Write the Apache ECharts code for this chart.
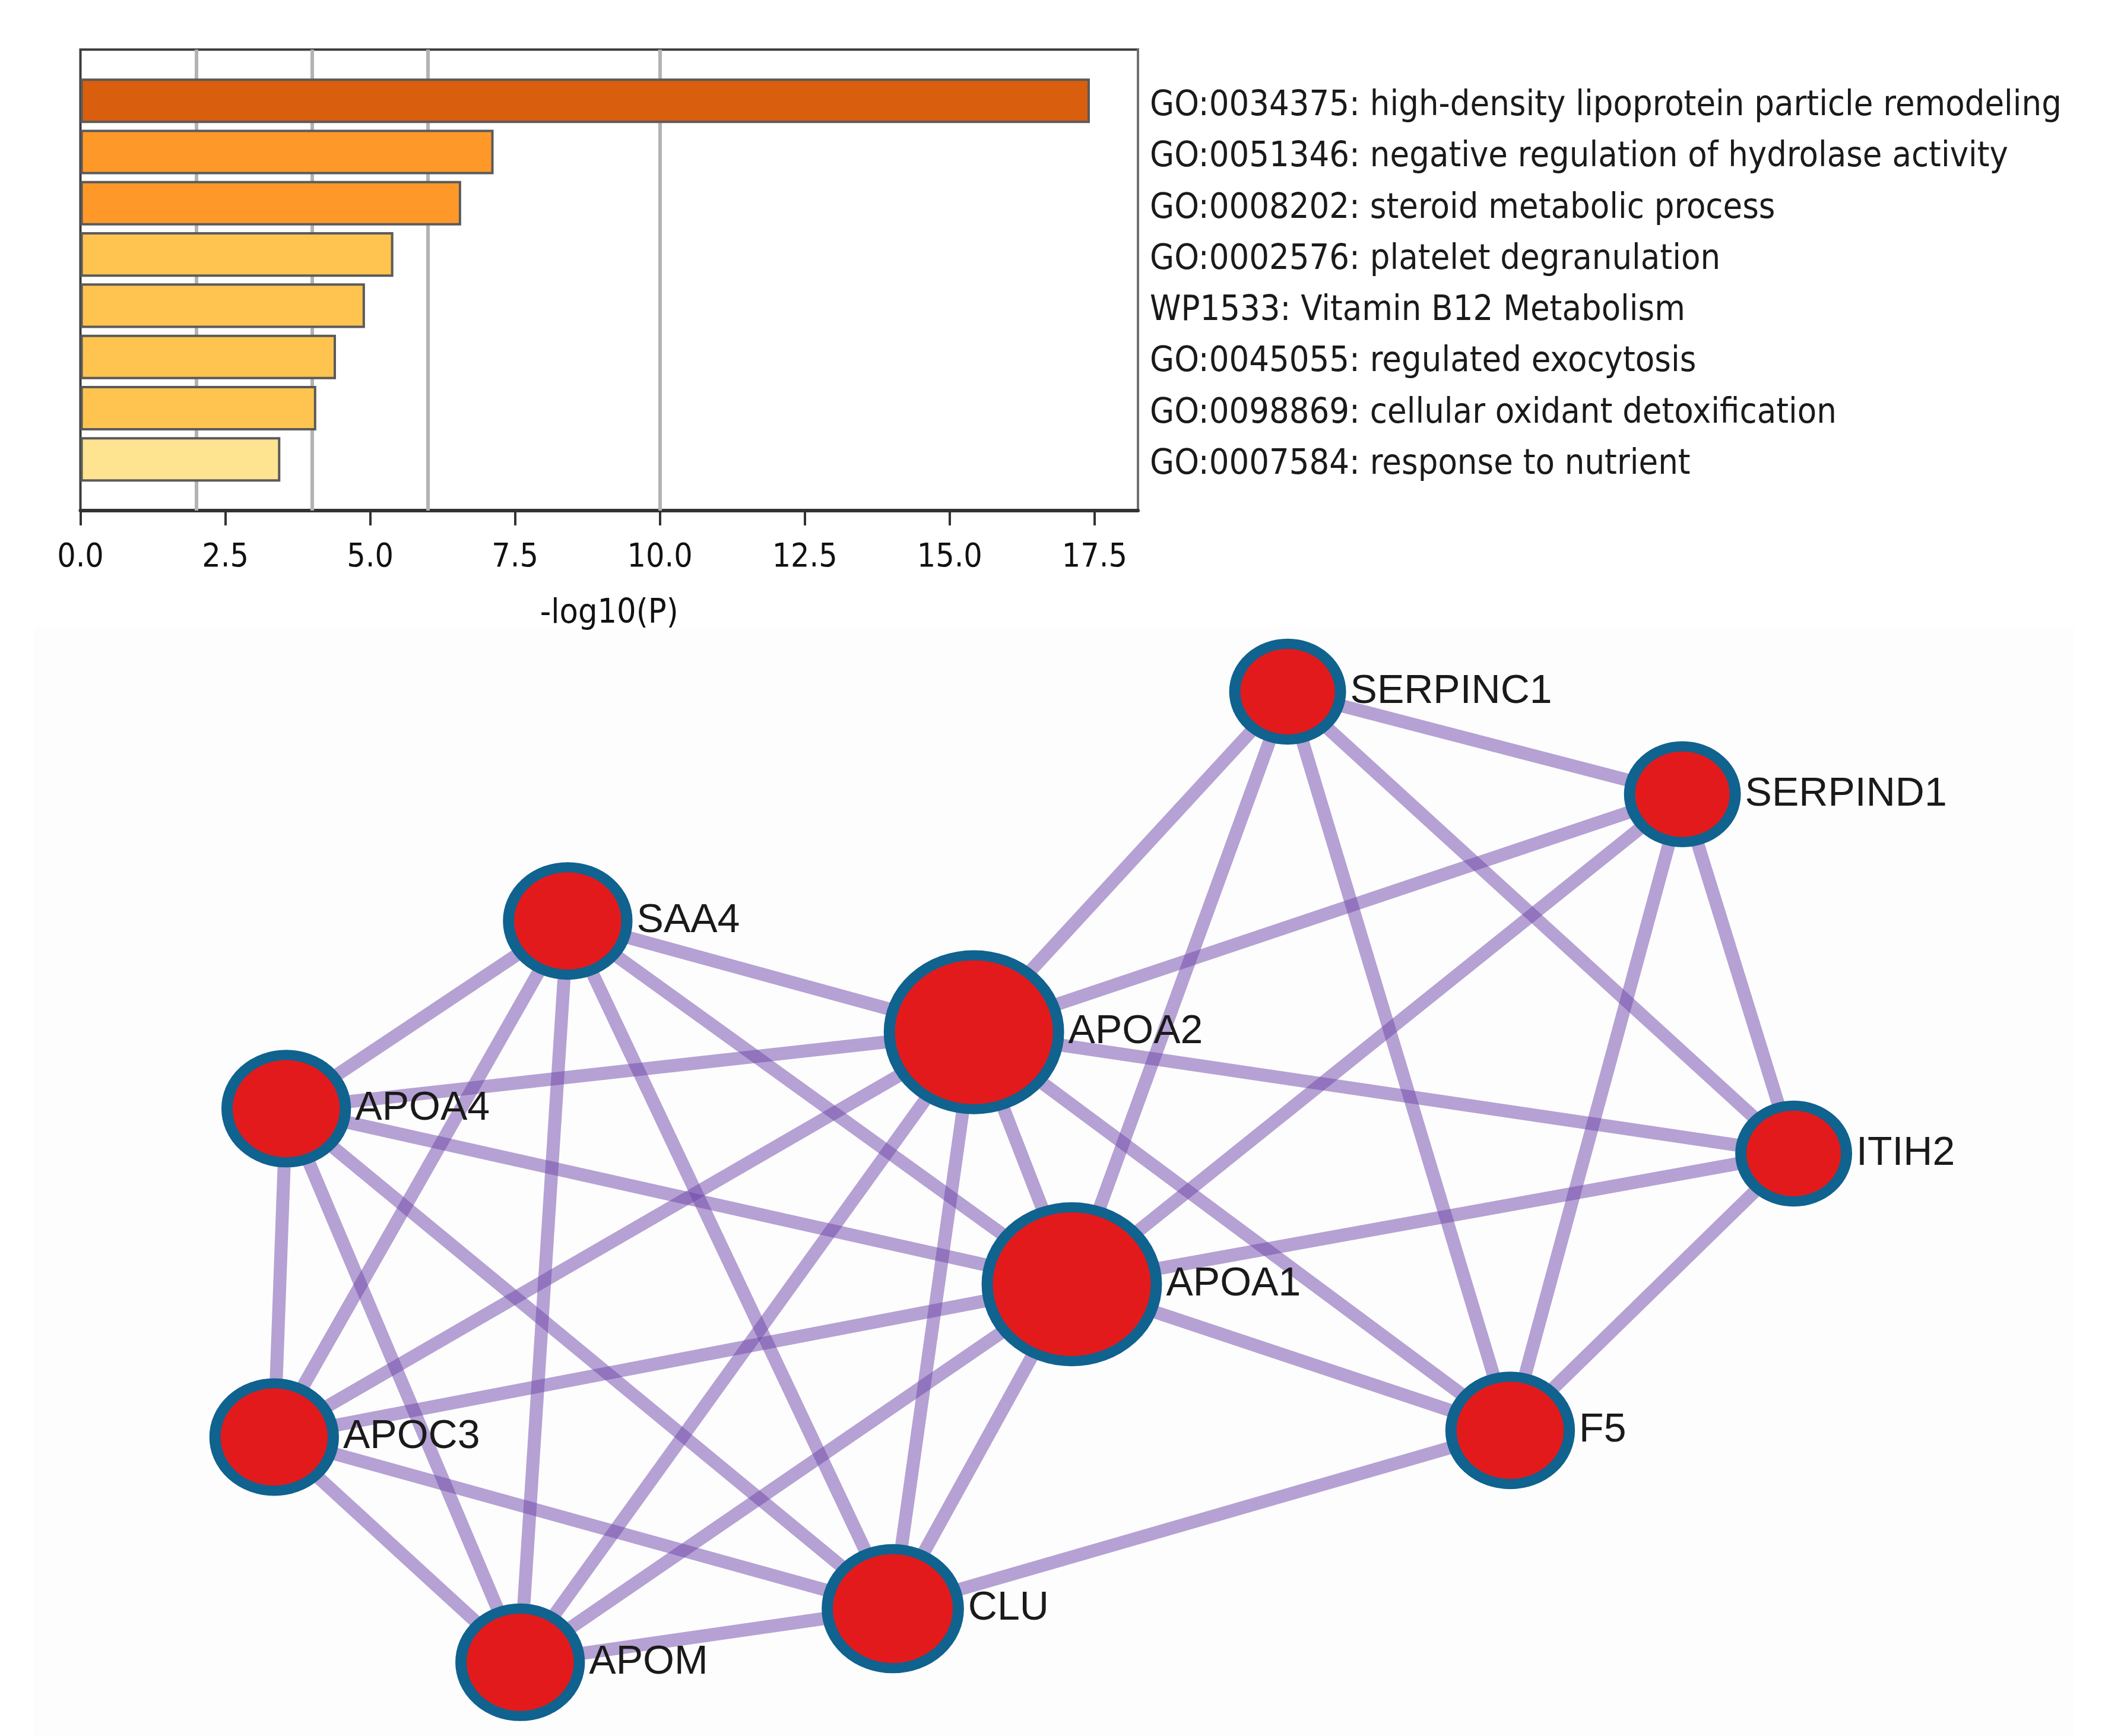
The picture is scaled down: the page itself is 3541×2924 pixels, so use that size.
<!DOCTYPE html>
<html>
<head>
<meta charset="utf-8">
<script src="https://cdn.jsdelivr.net/npm/echarts@6/dist/echarts.min.js"></script>
<style>
html,body{margin:0;padding:0;background:#ffffff;}
#chart{width:3541px;height:2924px;}
</style>
</head>
<body>
<div id="chart"></div>
<script>
// ---------------- data ----------------
const terms = [
  'GO:0034375: high-density lipoprotein particle remodeling',
  'GO:0051346: negative regulation of hydrolase activity',
  'GO:0008202: steroid metabolic process',
  'GO:0002576: platelet degranulation',
  'WP1533: Vitamin B12 Metabolism',
  'GO:0045055: regulated exocytosis',
  'GO:0098869: cellular oxidant detoxification',
  'GO:0007584: response to nutrient'
];
const logP = [17.42, 7.13, 6.57, 5.40, 4.91, 4.41, 4.07, 3.45];
const xTicks = [0, 2.5, 5, 7.5, 10, 12.5, 15, 17.5];
const thresholds = [2, 4, 6, 10];

const genes = ['SERPINC1','SERPIND1','SAA4','APOA2','APOA4','ITIH2','APOA1','APOC3','F5','CLU','APOM'];
const layoutX = [960.5, 1255, 423.5, 726.5, 213.5, 1338, 799.5, 204.5, 1126.5, 666, 388];
const layoutY = [516, 592.5, 687, 770, 827, 860.5, 958, 1072, 1067, 1200, 1240];
const edgeSource = [
  'SERPINC1','SERPINC1','SERPINC1','SERPINC1','SERPINC1',
  'SERPIND1','SERPIND1','SERPIND1','SERPIND1',
  'SAA4','SAA4','SAA4','SAA4','SAA4','SAA4',
  'APOA4','APOA4','APOA4','APOA4','APOA4',
  'APOA2','APOA2','APOA2','APOA2','APOA2','APOA2',
  'APOA1','APOA1','APOA1','APOA1','APOA1',
  'ITIH2','F5','APOC3','APOC3','APOM'
];
const edgeTarget = [
  'SERPIND1','APOA2','APOA1','F5','ITIH2',
  'APOA2','APOA1','ITIH2','F5',
  'APOA4','APOA2','APOA1','APOC3','APOM','CLU',
  'APOA2','APOA1','APOC3','APOM','CLU',
  'ITIH2','F5','APOA1','APOC3','APOM','CLU',
  'ITIH2','F5','APOC3','APOM','CLU',
  'F5','CLU','CLU','APOM','CLU'
];

// ---------------- styles ----------------
const binColors = ['#FEE391', '#FEE391', '#FEC44F', '#FE9929', '#D95F0E'];
function barColor(v) {
  let k = 0;
  thresholds.forEach(function (t) { if (v >= t) k++; });
  return binColors[k];
}
const condensed = "'DejaVu Sans Condensed', 'DejaVu Sans', sans-serif";
const nodeBorder = 18;
const degree = {};
genes.forEach(g => degree[g] = 0);
edgeSource.forEach((s, i) => { degree[s]++; degree[edgeTarget[i]]++; });
function nodeSize(g) {
  const w = 196 + 21.4 * (degree[g] - 5);
  const h = w * 0.915;
  return [w - nodeBorder, h - nodeBorder];
}
const ellipse = 'path://M0,50A50,50,0,1,1,100,50A50,50,0,1,1,0,50Z';

const chart = echarts.init(document.getElementById('chart'), null, {renderer: 'canvas'});

const option = {
  backgroundColor: '#ffffff',
  animation: false,
  graphic: [{
    type: 'rect', z: -10,
    shape: {x: 57, y: 1058, width: 3437, height: 1866},
    style: {fill: '#fdfdfd'}
  }],
  grid: [
    {left: 135.5, right: 1624, top: 83.5, bottom: 2064, show: true,
     borderColor: '#3a3a3a', borderWidth: 4, backgroundColor: 'transparent'},
    {left: 0, right: 0, top: 0, bottom: 0}
  ],
  xAxis: [
    {
      type: 'value', gridIndex: 0, min: 0, max: 18.25, interval: 2.5,
      name: '-log10(P)', nameLocation: 'middle', nameGap: 146,
      nameTextStyle: {fontFamily: condensed, fontSize: 57, color: '#111'},
      axisLine: {show: true, lineStyle: {color: '#333', width: 6}},
      axisTick: {show: true, length: 25, lineStyle: {color: '#333', width: 4}, customValues: xTicks},
      axisLabel: {fontFamily: condensed, fontSize: 55, color: '#111', margin: 52,
                  customValues: xTicks, formatter: v => Number(v).toFixed(1)},
      splitLine: {show: false}
    },
    {type: 'value', gridIndex: 1, min: 0, max: 1568, show: false}
  ],
  yAxis: [
    {
      type: 'category', gridIndex: 0, position: 'right', inverse: true, boundaryGap: false,
      data: [''].concat(terms).concat(['']),
      axisLine: {show: true, onZero: false, lineStyle: {color: '#6f6f6f', width: 4}},
      axisTick: {show: false},
      splitLine: {show: false},
      axisLabel: {
        interval: 0, margin: 20, align: 'left',
        formatter: v => v ? '{t|' + v + '}' : '',
        rich: {t: {fontFamily: condensed, fontSize: 59, color: '#1a1a1a', padding: [18, 0, 0, 0]}}
      }
    },
    {type: 'value', gridIndex: 1, min: 0, max: 1295, inverse: true, show: false}
  ],
  series: [
    {
      type: 'bar', xAxisIndex: 0, yAxisIndex: 0, z: 3,
      data: [null].concat(logP).concat([null]),
      barCategoryGap: '13%',
      itemStyle: {
        color: p => barColor(p.value),
        borderColor: '#5a5a5a', borderWidth: 4
      },
      markLine: {
        z: 1, silent: true, symbol: 'none',
        label: {show: false},
        lineStyle: {color: '#b3b3b3', width: 6, type: 'solid'},
        emphasis: {disabled: true},
        data: thresholds.map(t => ({xAxis: t}))
      }
    },
    {
      type: 'graph', layout: 'none', coordinateSystem: 'cartesian2d',
      xAxisIndex: 1, yAxisIndex: 1, z: 4,
      symbol: ellipse,
      itemStyle: {color: '#e31a1c', borderColor: '#10628f', borderWidth: nodeBorder},
      label: {show: true, position: 'right', distance: 7,
              fontFamily: "'Liberation Sans', Arial, sans-serif", fontSize: 68, color: '#1a1a1a'},
      lineStyle: {color: 'rgba(110,70,170,0.5)', width: 22, opacity: 1, curveness: 0},
      emphasis: {disabled: true},
      data: genes.map((g, i) => ({
        name: g, value: [layoutX[i], layoutY[i]], symbolSize: nodeSize(g)
      })),
      links: edgeSource.map((s, i) => ({source: s, target: edgeTarget[i]}))
    }
  ]
};
chart.setOption(option);
</script>
</body>
</html>
